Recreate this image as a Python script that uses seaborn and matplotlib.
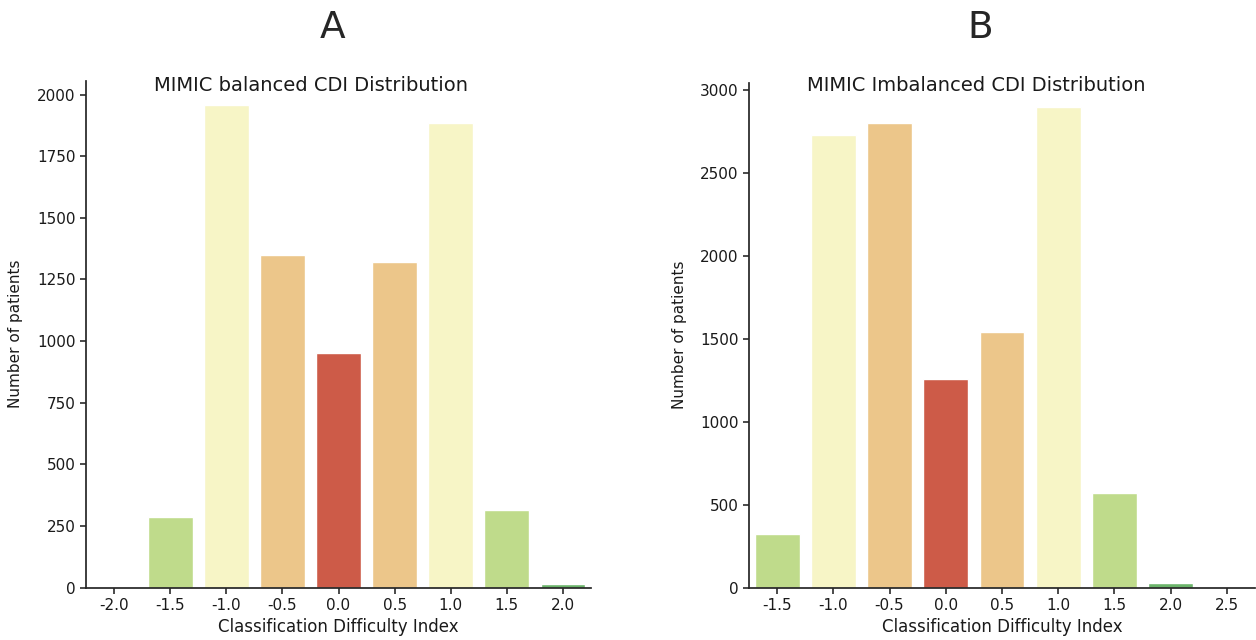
import pandas as pd
import seaborn as sns
import matplotlib.pyplot as plt

sns.set_theme(style="ticks")
plt.rcParams['font.family'] = ['DejaVu Sans']

# 数据
cdi_a = ["-2.0", "-1.5", "-1.0", "-0.5", "0.0", "0.5", "1.0", "1.5", "2.0"]
patients_a = [3, 288, 1959, 1347, 953, 1322, 1886, 316, 16]

cdi_b = ["-1.5", "-1.0", "-0.5", "0.0", "0.5", "1.0", "1.5", "2.0", "2.5"]
patients_b = [325, 2728, 2796, 1255, 1539, 2898, 571, 30, 0]

# 颜色按 |CDI| 取
level_colors = {0.0: "#cd5b48", 0.5: "#ecc68a", 1.0: "#f7f5c6",
                1.5: "#bfdb8b", 2.0: "#6bb46a", 2.5: "#4e9a55"}


def palette_for(cats):
    return {c: level_colors[abs(float(c))] for c in cats}


fig = plt.figure(figsize=(12.56, 6.4), dpi=100)
ax1 = fig.add_axes([86 / 1256, 1 - 587.5 / 640, 505 / 1256, (587.5 - 80.5) / 640])
ax2 = fig.add_axes([749 / 1256, 1 - 587.5 / 640, 506 / 1256, (587.5 - 82.5) / 640])

panels = [
    (ax1, cdi_a, patients_a, "MIMIC balanced CDI Distribution", "A", 333, 0.446, 0.99, 10),
    (ax2, cdi_b, patients_b, "MIMIC Imbalanced CDI Distribution", "B", 980, 0.449, 0.995, 9),
]

for ax, cats, vals, title, letter, lx, tx, ty, lp in panels:
    df = pd.DataFrame({"cdi": cats, "n": vals})
    sns.barplot(data=df, x="cdi", y="n", hue="cdi", order=cats,
                palette=palette_for(cats), legend=False, saturation=1,
                width=0.8, ax=ax)
    ax.text(tx, ty, title, transform=ax.transAxes, fontsize=14,
            ha="center", va="center", color="#1a1a1a")
    ax.set_xlabel("Classification Difficulty Index", fontsize=12, color="#1a1a1a")
    ax.set_ylabel("Number of patients", fontsize=11, labelpad=lp, color="#1a1a1a")
    ax.tick_params(labelsize=11, length=4, color="#333333", labelcolor="#1a1a1a")
    sns.despine(ax=ax)
    fig.text(lx / 1256, 1 - 28 / 640, letter, fontsize=27, ha="center", va="center")

fig.savefig("out.png", dpi=100)
